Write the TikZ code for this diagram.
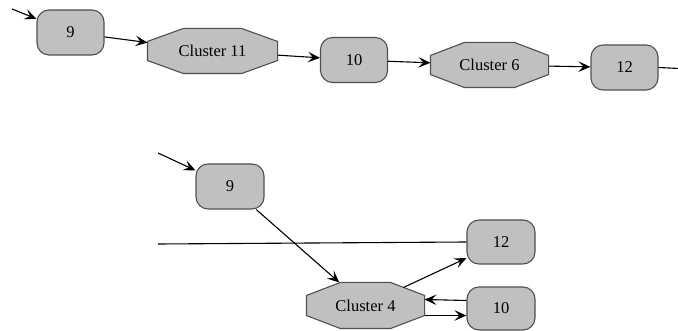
\documentclass[tikz,border=0pt]{standalone}
\usepackage{fontspec}
\setmainfont{Liberation Serif}
\usetikzlibrary{arrows.meta,calc,backgrounds}
\definecolor{nodefill}{HTML}{C0C0C0}
\definecolor{nodeline}{HTML}{505050}
\newcommand{\octshape}[3]{%
  \draw[octline] ($(#1.north west)+(#2,0)$) -- ($(#1.north east)+(-#2,0)$)
    -- ($(#1.north east)+(0,#3)$) -- ($(#1.south east)+(0,-#3)$)
    -- ($(#1.south east)+(-#2,0)$) -- ($(#1.south west)+(#2,0)$)
    -- ($(#1.south west)+(0,-#3)$) -- ($(#1.north west)+(0,#3)$) -- cycle;}
\begin{document}
\begin{tikzpicture}[x=1pt,y=-1pt,
  every node/.style={font=\fontsize{16.5}{19}\selectfont},
  statebox/.style={rectangle,rounded corners=12pt,draw=nodeline,fill=nodefill,line width=1.1pt,
    minimum width=67pt,minimum height=45pt,inner sep=0pt},
  clusterbox/.style={rectangle,inner sep=0pt,outer sep=0.55pt},
  octline/.style={draw=nodeline,fill=nodefill,line width=1.1pt,line join=miter},
  edge/.style={line width=1.1pt,-{Stealth[length=12pt,width=10.5pt,inset=5pt]}},
  plain/.style={line width=1.1pt}]
\useasboundingbox (0,0) rectangle (678,331);
% top row
\node[statebox] (t9) at (70.5,32.5) {9};
\node[clusterbox,minimum width=129pt,minimum height=44pt] (c11) at (212.5,51) {Cluster 11};
\node[statebox] (t10) at (354,60) {10};
\node[clusterbox,minimum width=117pt,minimum height=44pt] (c6) at (489.5,65) {Cluster 6};
\node[statebox] (t12) at (624.5,67.5) {12};
% bottom
\node[statebox,minimum width=68pt] (b9) at (230,186.5) {9};
\node[statebox,minimum width=68pt,minimum height=44pt] (b12) at (501,242) {12};
\node[clusterbox,minimum width=117pt,minimum height=45pt] (c4) at (365.5,305.5) {Cluster 4};
\node[statebox,minimum width=68pt,minimum height=43pt] (b10) at (501,308.5) {10};
\begin{pgfonlayer}{background}
\octshape{c11}{36}{13}
\octshape{c6}{34}{13}
\octshape{c4}{34}{13}
\end{pgfonlayer}
% top connectors
\coordinate (tin) at (12,9);
\coordinate (tout) at (679,68.5);
\draw[edge] (tin) -- (t9);
\draw[edge] (t9) -- (c11);
\draw[edge] (c11) -- (t10);
\draw[edge] (t10) -- (c6);
\draw[edge] (c6) -- (t12);
\draw[plain] (t12.east) -- (tout);
% bottom connectors
\coordinate (bin) at (158,153);
\coordinate (bleft) at (158,244);
\draw[edge] (bin) -- (b9);
\draw[edge] (b9) -- (c4);
\draw[plain] (b12.west) -- (bleft);
\draw[edge] ($(c4.north east)+(-21,5)$) -- (b12);
\draw[edge] ($(b10.west)+(0,-8)$) -- ($(c4.east)+(0,-6)$);
\draw[edge] ($(c4.east)+(0,10)$) -- ($(b10.west)+(0,7)$);
\end{tikzpicture}
\end{document}
